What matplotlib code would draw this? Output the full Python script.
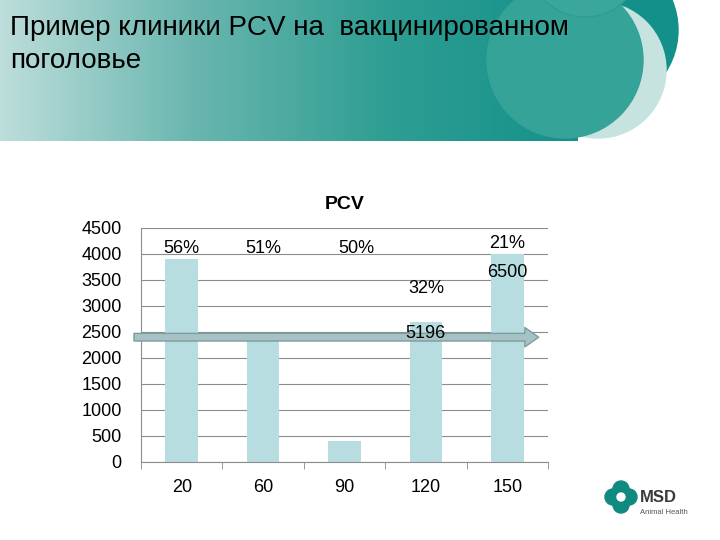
import numpy as np
import matplotlib
matplotlib.use("Agg")
import matplotlib.pyplot as plt
from matplotlib.patches import Circle

plt.rcParams["font.family"] = ["Liberation Sans", "DejaVu Sans"]

# Данные
categories = ["20", "60", "90", "120", "150"]
values = [3900, 2400, 400, 2700, 4000]
yticks = [0, 500, 1000, 1500, 2000, 2500, 3000, 3500, 4000, 4500]

# подписи над столбцами
labels = ["56%", "51%", "50%", "32%", "21%", "6500", "5196"]
label_x = [0, 1, 2.15, 3, 4, 4, 3]
label_y = [4110, 4110, 4110, 3330, 4210, 3650, 2480]
arrow_level = 2400

fig = plt.figure(figsize=(7.2, 5.4), dpi=100)

# --- шапка слайда ---
bg = fig.add_axes([0, 0, 1, 1])
bg.set_xlim(0, 720)
bg.set_ylim(540, 0)
bg.axis("off")

grad = np.linspace(0, 1, 256).reshape(1, -1)
cmap = matplotlib.colors.LinearSegmentedColormap.from_list(
    "hdr", ["#bddedb", "#6ab6af", "#2f9e93", "#14918a"])
bg.imshow(grad, extent=[0, 578, 141, 0], aspect="auto", cmap=cmap, zorder=1)
bg.add_patch(Circle((600, 30), 78, color="#13908a", zorder=2))
bg.add_patch(Circle((598, 70), 68, color="#c6e3e0", zorder=3))
bg.add_patch(Circle((565, 60), 78, color="#36a398", zorder=4))
bg.add_patch(Circle((585, -40), 57, color="#3aa69c", ec="#2e9c92", lw=0.8, zorder=5))

bg.text(10, 28, "Пример клиники PCV на  вакцинированном", fontsize=20,
        va="center", ha="left", color="black", zorder=10)
bg.text(10, 61, "поголовье", fontsize=20, va="center", ha="left",
        color="black", zorder=10)

# логотип MSD
for dx, dy in [(-8, 0), (8, 0), (0, -8), (0, 8)]:
    bg.add_patch(Circle((621 + dx, 497 + dy), 8, color="#0e8a80", zorder=7))
bg.add_patch(Circle((621, 497), 4, color="white", zorder=8))
bg.text(640, 497, "MSD", fontsize=12, fontweight="bold", color="#3a3a3a",
        va="center", ha="left", zorder=9)
bg.text(640, 512, "Animal Health", fontsize=5.5, color="#555555",
        va="center", ha="left", zorder=9)

# --- график ---
ax = fig.add_axes([141 / 720, 1 - 462 / 540, 407 / 720, 234 / 540])
x = np.arange(len(categories))
ax.bar(x, values, width=0.4, color="#b7dde1", zorder=2)
ax.set_xlim(-0.5, len(categories) - 0.5)
ax.set_ylim(0, 4500)
ax.set_yticks(yticks)
ax.set_xticks(x)
ax.set_xticklabels(categories)
ax.set_xticks(np.arange(-0.5, len(categories)), minor=True)
ax.tick_params(axis="x", which="major", length=0, labelsize=13, pad=12)
ax.tick_params(axis="x", which="minor", length=5, color="#888888")
ax.tick_params(axis="y", length=0, labelsize=13, pad=14)
ax.grid(axis="y", color="#8c8c8c", linewidth=0.8, zorder=0)
for s in ["top", "right"]:
    ax.spines[s].set_visible(False)
ax.spines["left"].set_color("#8c8c8c")
ax.spines["bottom"].set_color("#8c8c8c")
ax.set_title("PCV", fontsize=14, fontweight="bold", pad=14)

ax.annotate("", xy=(4.42, arrow_level), xytext=(-0.62, arrow_level),
            arrowprops=dict(arrowstyle="simple,head_width=1.4,head_length=1.0,tail_width=0.55",
                            fc="#a6c2c4", ec="#7c9da0", lw=1, mutation_scale=10),
            annotation_clip=False, zorder=3)

for t, lx, ly in zip(labels, label_x, label_y):
    ax.text(lx, ly, t, ha="center", va="center", fontsize=13, zorder=5)

fig.savefig("out.png", dpi=100)
